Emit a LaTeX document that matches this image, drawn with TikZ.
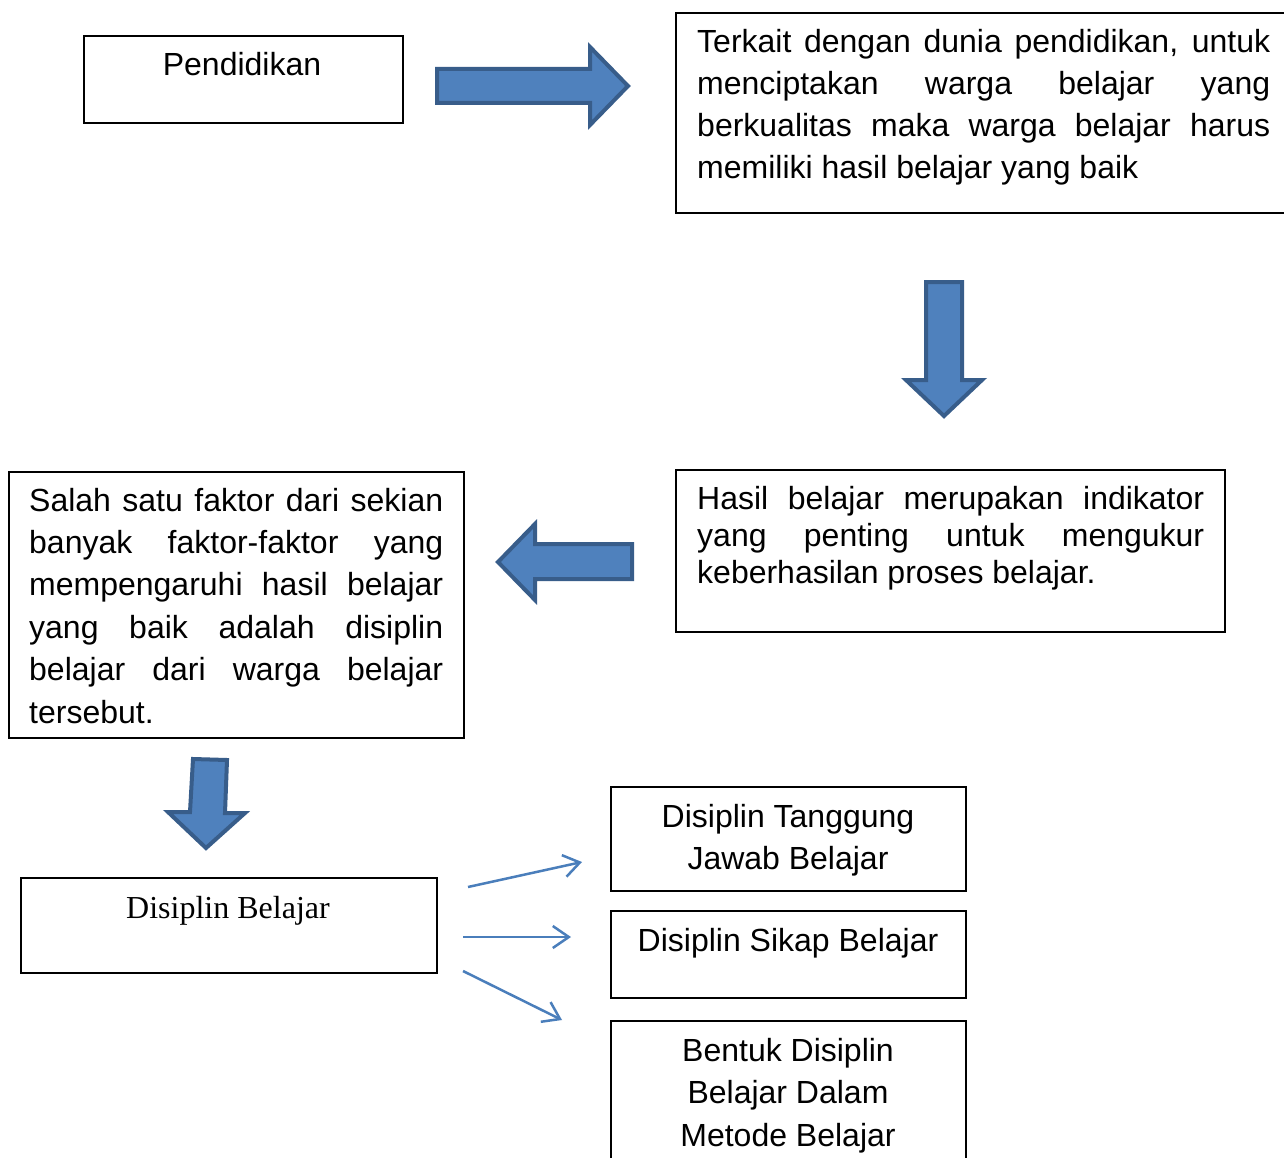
\documentclass[tikz,border=0pt]{standalone}
\usepackage{fontspec}
\setmainfont{Liberation Sans}
\newfontfamily\serifrm{Liberation Serif}
\usetikzlibrary{arrows.meta}
\definecolor{blockfill}{HTML}{4F81BD}
\definecolor{blockedge}{HTML}{385D8A}
\definecolor{thinblue}{HTML}{4A7EBB}
\newcommand{\jline}[1]{\makebox[\linewidth][s]{#1}}
\begin{document}
\begin{tikzpicture}[x=1pt,y=-1pt,
  box/.style={draw=black, line width=2pt, inner sep=0pt, anchor=north west, fill=none},
  txt/.style={inner sep=0pt, font=\fontsize{32}{42}\selectfont},
  block/.style={fill=blockfill, draw=blockedge, line width=4pt, line join=miter},
  thin/.style={draw=thinblue, line width=2.5pt, -{Straight Barb[length=16pt,width=22pt,line width=2.5pt]}}]
\useasboundingbox (0,0) rectangle (1284,1158);
\fill[white] (0,0) rectangle (1284,1158);

% boxes
\node[box, minimum width=319pt, minimum height=87pt] (b1) at (83,35) {};
\node[box, minimum width=609pt, minimum height=200pt] (b2) at (675,12) {};
\node[box, minimum width=549pt, minimum height=162pt] (b3) at (675,469) {};
\node[box, minimum width=455pt, minimum height=266pt] (b4) at (8,471) {};
\node[box, minimum width=416pt, minimum height=95pt] (b5) at (20,877) {};
\node[box, minimum width=355pt, minimum height=104pt] (ba) at (610,786) {};
\node[box, minimum width=355pt, minimum height=87pt] (bb) at (610,910) {};
\node[box, minimum width=355pt, minimum height=160pt] (bc) at (610,1020) {};

% texts
\node[txt, anchor=base] (t1) at (242,76) {Pendidikan};
\node[txt, anchor=base west] (t2) at (697,53) {\parbox[t]{573pt}{\fontsize{32}{42}\selectfont
  \jline{Terkait dengan dunia pendidikan, untuk}\\
  \jline{menciptakan warga belajar yang}\\
  \jline{berkualitas maka warga belajar harus}\\
  memiliki hasil belajar yang baik}};
\node[txt, anchor=base west] (t3) at (697,509) {\parbox[t]{507pt}{\fontsize{32}{37}\selectfont
  \jline{Hasil belajar merupakan indikator}\\
  \jline{yang penting untuk mengukur}\\
  keberhasilan proses belajar.}};
\node[txt, anchor=base west] (t4) at (29,511) {\parbox[t]{414pt}{\fontsize{32}{42.4}\selectfont
  \jline{Salah satu faktor dari sekian}\\
  \jline{banyak faktor-faktor yang}\\
  \jline{mempengaruhi hasil belajar}\\
  \jline{yang baik adalah disiplin}\\
  \jline{belajar dari warga belajar}\\
  tersebut.}};
\node[inner sep=0pt, anchor=base, font=\serifrm\fontsize{32}{38}\selectfont] (t5) at (228,918) {Disiplin Belajar};
\node[txt, anchor=base] (ta) at (788,827) {\parbox[t]{340pt}{\centering\fontsize{32}{42}\selectfont
  Disiplin Tanggung\\Jawab Belajar}};
\node[txt, anchor=base] (tb) at (788,951) {Disiplin Sikap Belajar};
\node[txt, anchor=base] (tc) at (788,1061) {\parbox[t]{340pt}{\centering\fontsize{32}{42.5}\selectfont
  Bentuk Disiplin\\Belajar Dalam\\Metode Belajar}};

% block arrows
\draw[block] (437,69) -- (590,69) -- (590,47) -- (628,86) -- (590,125) -- (590,103) -- (437,103) -- cycle;
\draw[block] (926,282) -- (962,282) -- (962,380) -- (982,380) -- (944,416) -- (906,380) -- (926,380) -- cycle;
\draw[block] (632,544) -- (535,544) -- (535,524) -- (498,562) -- (535,600) -- (535,579) -- (632,579) -- cycle;
\draw[block] (193,759) -- (227,760) -- (225,813) -- (245,813) -- (206,848) -- (168,812) -- (190,812) -- cycle;

% thin arrows
\coordinate (s1) at (468,887);
\coordinate (e1) at (582,862);
\coordinate (s2) at (463,937);
\coordinate (e2) at (571,937);
\coordinate (s3) at (463,971);
\coordinate (e3) at (562,1020);
\draw[thin] (s1) -- (e1);
\draw[thin] (s2) -- (e2);
\draw[thin] (s3) -- (e3);
\end{tikzpicture}
\end{document}
